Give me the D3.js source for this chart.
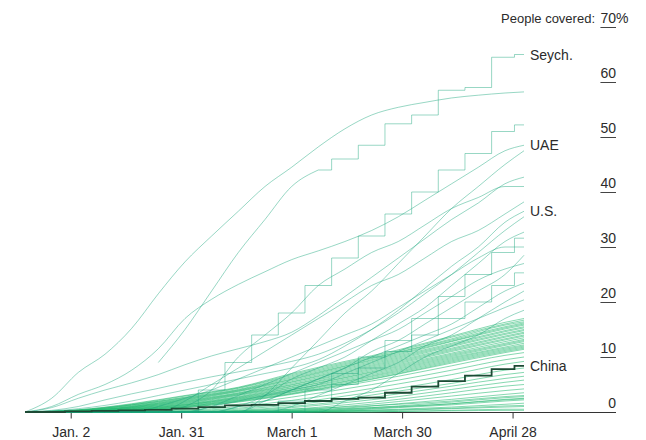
<!DOCTYPE html>
<html>
<head>
<meta charset="utf-8">
<script src="https://cdn.jsdelivr.net/npm/d3@7"></script>
<style>
body { margin: 0; background: #fff; }
text { font-family: "Liberation Sans", Arial, sans-serif; fill: #2b2b2b; }
</style>
</head>
<body>
<svg id="chart"></svg>
<script>
const width = 646;
const height = 440;

// weekly reporting dates for the highlighted / upper countries
const weekDates = ["2020-12-21", "2020-12-28", "2021-01-04", "2021-01-11", "2021-01-18",
  "2021-01-25", "2021-02-01", "2021-02-08", "2021-02-15", "2021-02-22", "2021-03-01",
  "2021-03-08", "2021-03-15", "2021-03-22", "2021-03-29", "2021-04-05", "2021-04-12",
  "2021-04-19", "2021-04-26", "2021-05-01"];

// every two weeks for the big cluster near the bottom
const biweekDates = ["2020-12-21", "2021-01-04", "2021-01-18", "2021-02-01", "2021-02-15",
  "2021-03-01", "2021-03-15", "2021-03-29", "2021-04-12", "2021-04-26", "2021-05-01"];

const xTickDates = ["2021-01-02", "2021-01-31", "2021-03-01", "2021-03-30", "2021-04-28"];
const xTickLabels = ["Jan. 2", "Jan. 31", "March 1", "March 30", "April 28"];
const yTicks = [0, 10, 20, 30, 40, 50, 60, 70];

// % of people covered, weekly
const israel = [0, 2.5, 7.2, 10.5, 15.2, 21.5, 27.3, 32, 36.5, 41, 44.5, 48.2, 51.5, 54, 55.4, 56.3, 57.1, 57.6, 58, 58.2];
const seychelles = [null, null, null, null, null, 9, 15, 22, 29, 35, 41, 44, 46, 48.5, 52.4, 54, 58.5, 59, 64.5, 65];
const uae = [0, 1, 3.2, 5, 7.6, 11.5, 17, 20.5, 23.2, 25.5, 27.7, 29.3, 31, 33, 35.5, 38.5, 41.5, 44.5, 47.5, 48.5];
const chile = [0, 0, 0, 0, 0, 0, 0, 4, 9, 14, 18, 23, 28, 32, 36, 40, 44, 47, 51, 52.2];
const bahrain = [0, 0.8, 2.5, 4, 5.3, 6.8, 8.6, 10.2, 11.5, 12.8, 14.5, 17.5, 21, 24.5, 28, 31.5, 35, 38, 41.5, 42.7];
const malta = [0, 0, 0, 0, 0, 0, 1, 4, 10, 14, 18, 23, 26, 29, 31, 34, 37, 39, 41, 41];
const maldives = [0, 0, 0, 0, 0, 0, 0, 0, 0, 3, 8, 13, 18, 22, 27, 32, 37, 41, 45, 47.5];
const uk = [0, 0.3, 1, 2.2, 3.3, 4.3, 5.4, 6.4, 7.3, 8.2, 9.2, 10.5, 12.5, 15, 18, 21.5, 25, 29, 33, 35.5];
const us = [0, 0.2, 0.6, 1.2, 2, 3, 4, 5, 6, 7, 8, 9.5, 12, 15, 18.5, 22.5, 26.5, 30, 34.5, 36.5];
const hungary = [0, 0, 0, 0, 0, 0, 2, 5, 8, 11, 14, 17, 20, 23, 25, 28, 31, 33, 36, 38.2];
const serbia = [0, 0, 0, 0, 0, 0, 0, 0, 1, 3, 6, 8, 10, 13, 16, 19, 23, 27, 31, 32.7];
const mongolia = [0, 0, 0, 0, 0, 0, 0, 0, 0, 0, 2, 4, 7, 10, 13, 17, 21, 25, 29, 31.6];
const qatar = [0, 0, 0, 0, 0, 1, 2.5, 4, 6, 8, 10, 12, 14, 16, 19, 22, 25, 28, 30, 30];
const monaco = [0, 0, 0, 0, 0, 0, 0, 0, 0, 2, 4, 6, 8, 11, 13, 16, 19, 22, 25, 28.5];
const iceland = [0, 0, 0, 0, 0, 0, 0, 1, 3, 5, 7, 9, 11, 13, 15, 18, 21, 24, 26, 27];
const bhutan = [0, 0, 0, 0, 0, 0, 0, 0, 0, 0, 0, 2, 5, 8, 11, 14, 17, 20, 23, 25.3];
const uruguay = [0, 0, 0, 0, 0, 0, 0, 0, 1, 2, 4, 6, 8, 10, 12, 14, 16, 19, 22, 23.4];
const canada = [0, 0, 0, 0, 0, 0, 0, 0, 0, 0, 1, 3, 5, 7, 9, 12, 14, 17, 20, 22];
const denmark = [0, 0, 0, 0, 0, 0, 0, 1, 2, 3, 4, 5, 7, 9, 11, 13, 15, 17, 19, 20.4];
const germany = [0, 0, 0, 0, 0, 0, 0, 0, 0, 0, 0, 0, 2, 4, 7, 10, 12, 14, 17, 18.5];
const china = [0, 0, 0.1, 0.2, 0.3, 0.4, 0.6, 0.9, 1.2, 1.3, 1.6, 2.0, 2.4, 2.6, 3.5, 4.6, 5.6, 6.6, 7.8, 8.4];

// Seychelles reports in big weekly jumps from March on
const seychellesStepFrom = 11;

// cluster of other countries, every two weeks
const upperBand = [
  [0, 0.4, 1.5, 3.0, 4.5, 7.0, 9.2, 11.3, 13.8, 16.3, 17],
  [0, 0.4, 1.4, 2.9, 4.4, 6.8, 9.0, 11.1, 13.6, 16.0, 16.7],
  [0, 0.3, 1.3, 2.7, 4.3, 6.6, 8.8, 10.9, 13.3, 15.8, 16.4],
  [0, 0.3, 1.3, 2.6, 4.1, 6.4, 8.6, 10.8, 13.1, 15.5, 16.2],
  [0, 0.3, 1.2, 2.5, 4.0, 6.2, 8.4, 10.6, 12.9, 15.3, 16.0],
  [0, 0.3, 1.1, 2.4, 3.9, 6.0, 8.3, 10.4, 12.8, 15.1, 15.8],
  [0, 0.2, 1.0, 2.3, 3.8, 5.9, 8.1, 10.2, 12.5, 14.8, 15.5],
  [0, 0.2, 1.0, 2.2, 3.7, 5.7, 7.9, 10.0, 12.3, 14.6, 15.3],
  [0, 0.2, 0.9, 2.1, 3.5, 5.5, 7.7, 9.8, 12.1, 14.3, 15.0],
  [0, 0.2, 0.9, 2.0, 3.4, 5.4, 7.5, 9.6, 11.9, 14.1, 14.8],
  [0, 0.2, 0.8, 1.9, 3.3, 5.2, 7.3, 9.4, 11.6, 13.8, 14.5],
  [0, 0.1, 0.8, 1.8, 3.2, 5.0, 7.1, 9.2, 11.4, 13.6, 14.3],
  [0, 0.1, 0.7, 1.7, 3.1, 4.9, 6.9, 9.0, 11.2, 13.3, 14.0],
  [0, 0.1, 0.7, 1.6, 3.0, 4.7, 6.7, 8.8, 11.0, 13.1, 13.8],
  [0, 0.1, 0.6, 1.5, 2.8, 4.6, 6.5, 8.6, 10.7, 12.8, 13.5],
  [0, 0.1, 0.6, 1.4, 2.7, 4.4, 6.3, 8.4, 10.5, 12.5, 13.2],
  [0, 0.1, 0.5, 1.3, 2.6, 4.3, 6.2, 8.2, 10.3, 12.3, 13.0],
  [0, 0.1, 0.5, 1.3, 2.5, 4.1, 6.0, 8.0, 10.1, 12.1, 12.8],
  [0, 0, 0.4, 1.2, 2.4, 4.0, 5.8, 7.8, 9.9, 11.8, 12.5],
  [0, 0, 0.4, 1.1, 2.3, 3.8, 5.6, 7.6, 9.7, 11.6, 12.2],
  [0, 0, 0.4, 1.0, 2.2, 3.7, 5.5, 7.4, 9.5, 11.4, 12.0],
  [0, 0, 0.3, 1.0, 2.1, 3.6, 5.3, 7.2, 9.3, 11.2, 11.8],
  [0, 0, 0.3, 0.9, 2.0, 3.4, 5.1, 7.0, 9.1, 11.0, 11.6],
  [0, 0, 0.3, 0.8, 1.9, 3.3, 5.0, 6.9, 8.9, 10.8, 11.4]
];
const lowerBand = [
  [0, 0, 0.2, 0.8, 1.8, 3.2, 4.8, 6.5, 8.4, 10.3, 10.8],
  [0, 0, 0.1, 0.5, 1.4, 2.7, 4.2, 5.8, 7.6, 9.5, 10.0],
  [0, 0, 0, 0.3, 1.0, 2.1, 3.5, 5.1, 6.8, 8.7, 9.2],
  [0, 0, 0, 0.2, 0.7, 1.6, 2.9, 4.3, 5.9, 7.6, 8.0],
  [0, 0, 0, 0.1, 0.5, 1.3, 2.4, 3.8, 5.2, 6.8, 7.2],
  [0, 0, 0, 0, 0.3, 1.0, 2.0, 3.3, 4.7, 6.1, 6.5],
  [0, 0, 0, 0, 0.2, 0.8, 1.7, 2.8, 4.1, 5.4, 5.8],
  [0, 0, 0, 0, 0.1, 0.5, 1.3, 2.3, 3.5, 4.7, 5.0],
  [0, 0, 0, 0, 0, 0.3, 1.0, 1.9, 2.9, 3.9, 4.2],
  [0, 0, 0, 0, 0, 0.2, 0.7, 1.5, 2.3, 3.2, 3.5],
  [0, 0, 0, 0.1, 0.2, 0.5, 0.9, 1.4, 2.0, 2.8, 3.0],
  [0, 0, 0, 0, 0, 0.1, 0.5, 1.1, 1.8, 2.6, 2.8],
  [0, 0, 0, 0, 0, 0.1, 0.4, 0.9, 1.5, 2.3, 2.5],
  [0, 0, 0, 0, 0.1, 0.3, 0.6, 1.0, 1.5, 2.2, 2.4],
  [0, 0, 0, 0, 0, 0, 0.3, 0.8, 1.3, 2.0, 2.2],
  [0, 0, 0, 0, 0, 0, 0.2, 0.5, 0.9, 1.4, 1.6],
  [0, 0, 0, 0, 0, 0.1, 0.2, 0.4, 0.7, 1.1, 1.2],
  [0, 0, 0, 0, 0, 0, 0.1, 0.3, 0.6, 0.9, 1.0],
  [0, 0, 0, 0, 0, 0, 0, 0.1, 0.3, 0.5, 0.5],
  [0, 0, 0, 0, 0, 0, 0, 0.1, 0.2, 0.3, 0.3]
];

const smoothSeries = [
  { name: "Israel", values: israel },
  { name: "UAE", values: uae },
  { name: "Bahrain", values: bahrain },
  { name: "U.K.", values: uk },
  { name: "U.S.", values: us },
  { name: "Malta", values: malta },
  { name: "Maldives", values: maldives },
  { name: "Hungary", values: hungary },
  { name: "Serbia", values: serbia },
  { name: "Qatar", values: qatar },
  { name: "Monaco", values: monaco },
  { name: "Iceland", values: iceland },
  { name: "Uruguay", values: uruguay },
  { name: "Canada", values: canada },
  { name: "Denmark", values: denmark },
  { name: "Germany", values: germany }
];
const steppedSeries = [
  { name: "Chile", values: chile },
  { name: "Mongolia", values: mongolia },
  { name: "Bhutan", values: bhutan }
];
const labelled = ["Seych.", "UAE", "U.S.", "China"];

const parse = d3.utcParse("%Y-%m-%d");

const svg = d3.select("#chart")
  .attr("width", width)
  .attr("height", height);

const x = d3.scaleUtc()
  .domain([parse("2020-12-21"), parse("2021-05-01")])
  .range([25, 524]);

const y = d3.scaleLinear()
  .domain([0, 70])
  .range([412, 27]);

function toPoints(dates, values) {
  return values.map((v, i) => ({ date: parse(dates[i]), v: v }));
}

function lineGen(curve) {
  return d3.line()
    .defined(d => d.v !== null)
    .x(d => x(d.date))
    .y(d => y(d.v))
    .curve(curve);
}

// x axis
svg.append("line")
  .attr("x1", 27)
  .attr("x2", 616)
  .attr("y1", y(0) + 0.5)
  .attr("y2", y(0) + 0.5)
  .attr("stroke", "#333")
  .attr("stroke-width", 1);

const xAxis = d3.axisBottom(x)
  .tickValues(xTickDates.map(parse))
  .tickFormat((d, i) => xTickLabels[i])
  .tickSize(6)
  .tickPadding(9);

svg.append("g")
  .attr("transform", `translate(0,${y(0) + 0.5})`)
  .call(xAxis)
  .call(g => g.select(".domain").remove())
  .call(g => g.selectAll(".tick line").attr("stroke", "#333"))
  .call(g => g.selectAll(".tick text")
    .attr("fill", "#2b2b2b")
    .style("font-size", "14px")
    .style("font-family", "'Liberation Sans', Arial, sans-serif"));

// y labels, right side, underlined
const yLab = svg.append("g");
yTicks.forEach(v => {
  const t = yLab.append("text")
    .attr("x", 616)
    .attr("y", y(v) - 4)
    .attr("text-anchor", "end")
    .style("font-size", "14px")
    .text(v);
  if (v > 0) {
    const w = t.node().getComputedTextLength();
    yLab.append("line")
      .attr("x1", 616 - w)
      .attr("x2", 616)
      .attr("y1", y(v) + 0.5)
      .attr("y2", y(v) + 0.5)
      .attr("stroke", "#444")
      .attr("stroke-width", 1);
  }
});
yLab.append("text")
  .attr("x", 616)
  .attr("y", y(70) - 4)
  .style("font-size", "14px")
  .text("%");
yLab.append("text")
  .attr("x", 595)
  .attr("y", y(70) - 4)
  .attr("text-anchor", "end")
  .style("font-size", "13px")
  .text("People covered:");

// cluster
const bandLine = lineGen(d3.curveMonotoneX);
svg.append("g")
  .selectAll("path")
  .data(lowerBand.concat(upperBand))
  .join("path")
  .attr("d", d => bandLine(toPoints(biweekDates, d)))
  .attr("fill", "none")
  .attr("stroke", "#22b86f")
  .attr("stroke-opacity", 0.55)
  .attr("stroke-width", 1);

// upper countries
const smoothLine = lineGen(d3.curveMonotoneX);
const stepLine = lineGen(d3.curveStep);
const upper = svg.append("g")
  .attr("fill", "none")
  .attr("stroke", "#1aa67c")
  .attr("stroke-opacity", 0.45)
  .attr("stroke-width", 1);

upper.selectAll(".smooth")
  .data(smoothSeries)
  .join("path")
  .attr("class", "smooth")
  .attr("d", d => smoothLine(toPoints(weekDates, d.values)));

upper.selectAll(".stepped")
  .data(steppedSeries)
  .join("path")
  .attr("class", "stepped")
  .attr("d", d => stepLine(toPoints(weekDates, d.values)));

// Seychelles: smooth climb, then weekly jumps
const seyPts = toPoints(weekDates, seychelles);
upper.append("path")
  .attr("d", smoothLine(seyPts.slice(0, seychellesStepFrom + 1)));
upper.append("path")
  .attr("d", stepLine(seyPts.slice(seychellesStepFrom)));

// China
svg.append("path")
  .attr("d", stepLine(toPoints(weekDates, china)))
  .attr("fill", "none")
  .attr("stroke", "#1d4a35")
  .attr("stroke-width", 1.8);

// end labels
const allSeries = smoothSeries.concat(steppedSeries, [
  { name: "Seych.", values: seychelles },
  { name: "China", values: china }
]);
svg.append("g")
  .selectAll("text")
  .data(allSeries.filter(s => labelled.includes(s.name)))
  .join("text")
  .attr("x", x(parse("2021-05-01")) + 6)
  .attr("y", d => y(d.values[d.values.length - 1]) + 5)
  .style("font-size", "14px")
  .text(d => d.name);
</script>
</body>
</html>
